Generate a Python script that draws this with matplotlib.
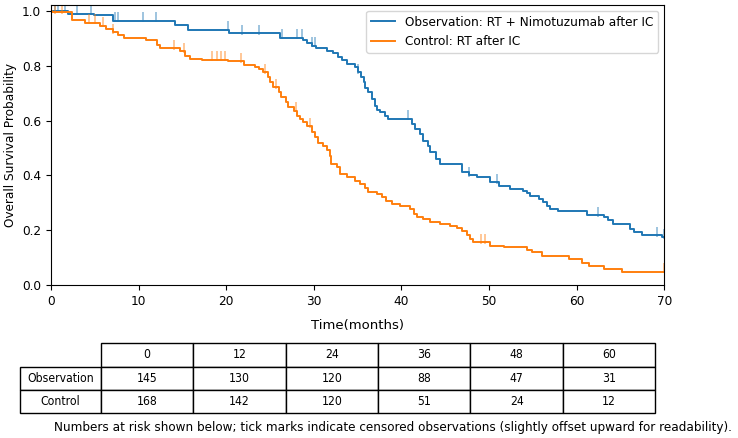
import numpy as np
import matplotlib
matplotlib.use('Agg')
from matplotlib import pyplot as plt

plt.rcParams['font.family'] = ['DejaVu Sans']

# Kaplan-Meier steps (time in months, survival after the step)
obs_t = [0, 1.9, 4.9, 7.1, 14.2, 15.6, 20.3, 26.1, 28.8, 29.2, 29.8, 30.3, 31.5, 32.2,
         32.8, 33.2, 33.8, 34.7, 35.1, 35.4, 35.7, 35.9, 36.2, 36.6, 37.0, 37.2, 37.6,
         38.1, 38.5, 41.2, 41.6, 42.1, 42.5, 43.0, 43.3, 44.0, 44.4, 46.9, 47.7, 48.6,
         50.1, 51.1, 52.4, 53.9, 54.3, 54.7, 55.7, 56.2, 56.6, 57.0, 57.9, 61.2, 63.1,
         63.6, 64.2, 66.1, 66.5, 67.5, 69.7]
obs_s = [1.0, 0.99, 0.985, 0.963, 0.949, 0.932, 0.918, 0.901, 0.892, 0.883, 0.873, 0.864,
         0.855, 0.846, 0.833, 0.819, 0.807, 0.795, 0.776, 0.758, 0.739, 0.719, 0.703, 0.679,
         0.654, 0.639, 0.630, 0.618, 0.606, 0.588, 0.569, 0.551, 0.527, 0.508, 0.484, 0.460,
         0.442, 0.414, 0.401, 0.393, 0.375, 0.362, 0.350, 0.344, 0.336, 0.324, 0.314, 0.304,
         0.289, 0.277, 0.271, 0.255, 0.247, 0.238, 0.223, 0.204, 0.192, 0.182, 0.174]

ctl_t = [0, 0.1, 2.4, 3.9, 5.6, 6.3, 7.1, 7.7, 8.3, 10.9, 12.1, 12.4, 14.7, 15.3, 15.9,
         17.2, 20.2, 22.0, 23.3, 23.7, 24.2, 24.8, 25.0, 25.4, 26.0, 26.3, 26.8, 27.1, 27.7,
         28.1, 28.4, 28.8, 29.2, 29.8, 30.1, 30.5, 31.0, 31.5, 31.9, 32.0, 32.6, 33.0, 33.8,
         34.7, 35.3, 35.9, 36.2, 37.2, 37.8, 38.3, 38.9, 39.9, 41.0, 41.4, 41.8, 42.5, 43.3,
         44.4, 45.6, 46.3, 46.9, 47.5, 47.8, 48.2, 50.1, 51.7, 54.3, 54.9, 56.0, 59.1, 60.6,
         61.4, 63.1, 65.2]
ctl_s = [1.0, 0.995, 0.968, 0.956, 0.946, 0.934, 0.922, 0.912, 0.900, 0.892, 0.876, 0.864,
         0.852, 0.837, 0.825, 0.821, 0.816, 0.804, 0.797, 0.788, 0.776, 0.758, 0.739, 0.721,
         0.703, 0.685, 0.667, 0.648, 0.636, 0.618, 0.606, 0.594, 0.579, 0.557, 0.539, 0.518,
         0.508, 0.494, 0.472, 0.442, 0.429, 0.405, 0.393, 0.381, 0.369, 0.353, 0.341, 0.332,
         0.320, 0.308, 0.296, 0.289, 0.277, 0.259, 0.247, 0.241, 0.229, 0.223, 0.214, 0.207,
         0.198, 0.182, 0.168, 0.156, 0.143, 0.138, 0.129, 0.122, 0.107, 0.095, 0.080, 0.071,
         0.058, 0.049]

# censored times
obs_cens = [0.46, 0.83, 1.6, 3.0, 4.6, 7.3, 7.7, 10.5, 12.0, 20.2, 21.8, 23.8, 26.4, 28.1,
            28.7, 29.8, 30.1, 35.1, 40.8, 47.7, 50.9, 62.5, 69.2, 69.95]
ctl_cens = [0.5, 1.3, 4.3, 5.0, 6.0, 7.1, 14.1, 15.2, 18.4, 18.9, 19.4, 19.9, 21.7, 24.4,
            25.7, 28.0, 29.6, 49.1, 49.6, 69.95]

risk_times = ['0', '12', '24', '36', '48', '60']
risk_obs = [145, 130, 120, 88, 47, 31]
risk_ctl = [168, 142, 120, 51, 24, 12]

labels = ['Observation: RT + Nimotuzumab after IC', 'Control: RT after IC']
colors = ['#1f77b4', '#ff7f0e']
t_end = 70


def surv_at(times, surv, x):
    idx = np.searchsorted(times, x, side='right') - 1
    return np.array(surv)[idx]


fig = plt.figure(figsize=(7.38, 4.38), dpi=100)
ax = fig.add_axes([0.069, 0.349, 0.831, 0.640])

for t, s, cens, lab, c in zip([obs_t, ctl_t], [obs_s, ctl_s], [obs_cens, ctl_cens],
                              labels, colors):
    tt = list(t) + [t_end]
    ss = list(s) + [s[-1]]
    ax.step(tt, ss, where='post', color=c, lw=1.4, label=lab)
    cy = surv_at(t, s, np.array(cens))
    ax.plot(cens, cy + 0.013, ls='none', marker='|', ms=6.5, mew=1.1, color=c, alpha=0.55)

ax.set_xlim(0, 70)
ax.set_ylim(0, 1.022)
ax.set_xticks(np.arange(0, 71, 10))
ax.set_yticks(np.arange(0, 1.01, 0.2))
ax.tick_params(labelsize=8.7)
ax.set_ylabel('Overall Survival Probability', fontsize=8.7)
ax.set_xlabel('Time(months)', fontsize=9.5, labelpad=8)
ax.legend(loc='upper right', fontsize=8.7)

# numbers at risk table
cells = [[''] + risk_times,
         ['Observation'] + [str(v) for v in risk_obs],
         ['Control'] + [str(v) for v in risk_ctl]]
x0 = (20 - 51) / 613
x1 = (655 - 51) / 613
y_top = (285 - 343) / 280
y_bot = (285 - 413) / 280
cw = [81] + [92.3] * 6
tab = ax.table(cellText=cells, cellLoc='center', colWidths=[w / sum(cw) for w in cw],
               bbox=[x0, y_bot, x1 - x0, y_top - y_bot])
tab.auto_set_font_size(False)
for (r, c), cell in tab.get_celld().items():
    cell.set_linewidth(1.0)
    cell.get_text().set_fontsize(8.7)
    cell.get_text().set_fontstretch('condensed')
    if r == 0 and c == 0:
        cell.visible_edges = ''

fig.text(0.533, 1 - 428 / 438,
         'Numbers at risk shown below; tick marks indicate censored observations '
         '(slightly offset upward for readability).',
         ha='center', va='center', fontsize=9.6, fontstretch='condensed')

fig.savefig('out.png', dpi=100)
